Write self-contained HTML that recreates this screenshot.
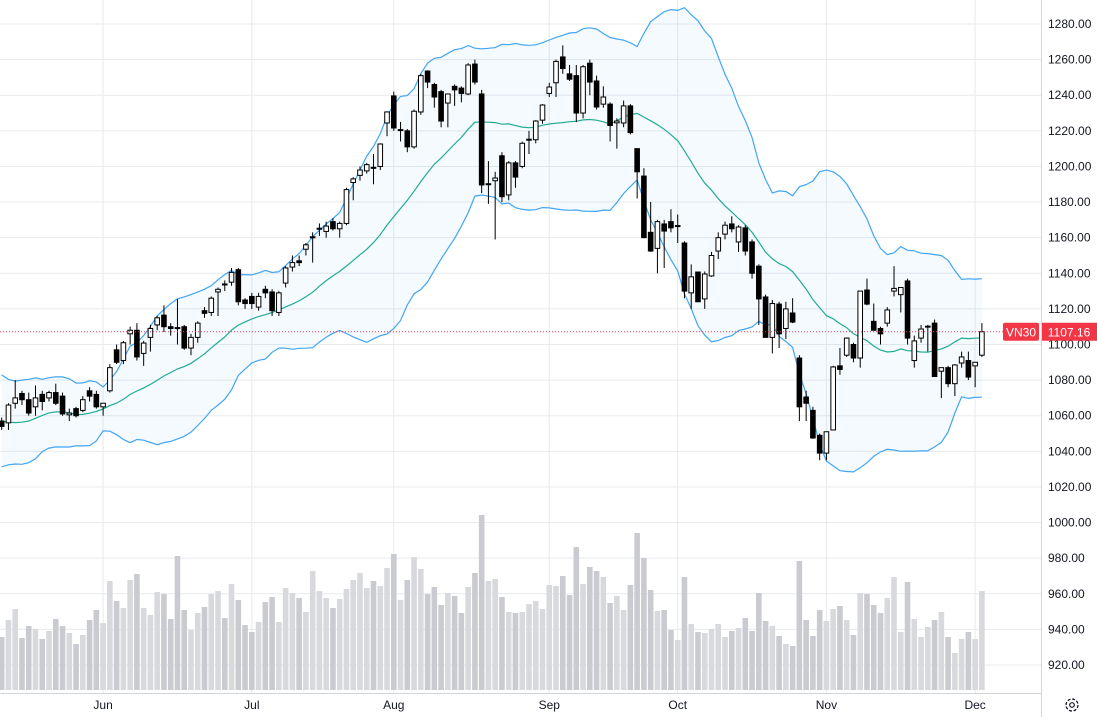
<!DOCTYPE html>
<html><head><meta charset="utf-8"><style>
html,body{margin:0;padding:0;background:#fff;width:1097px;height:717px;overflow:hidden;font-family:"Liberation Sans",sans-serif}
svg{display:block}
</style></head><body>
<svg id="chart" width="1097" height="717" xmlns="http://www.w3.org/2000/svg"></svg>
<script>
// ---- data ----
const opens=[1057,1056,1067,1072.5,1069,1065,1072,1070,1073,1071,1060.5,1064,1063,1074,1072,1065,1074,1097,1091,1106,1108,1095,1104,1111,1116.5,1110,1109.5,1110,1098,1104,1119,1118,1129.5,1134,1135,1142,1125,1127,1121,
1131,1129.5,1118,1134.5,1143.5,1147,1153.5,1160,1165,1163.5,1169,1165,1168,1191,1195,1197.5,1199.5,1200,1224.4,1239.6,1220.5,1220,1211,1230.6,1253.6,1246,1242,1235.6,1245,1244,1240.7,1257.5,1240.7,1190,1192,1206,
1184,1202,1200,1215,1215,1226,1241,1247,1261.5,1252,1251,1230,1258,1248,1235,1235,1224.5,1224.4,1234,1210,1194.6,1163,1154,1167.7,1169,1166.5,1157,1129,1140.7,1125.6,1138.5,1152.5,1162,1167.7,1157.6,1165.5,1157.6,1144,
1126.7,1104,1122.7,1109,1117.7,1092.4,1070.5,1063,1049,1039,1052,1088,1094,1100,1092.4,1130.6,1113,1109,1112,1130,1128,1135.7,1091,1103.6,1110,1112,1085,1087,1078,1089.6,1091,1088,1094];
const highs=[1059,1067,1080,1074,1073,1077,1074,1074,1078,1073,1064,1065,1071,1076,1074,1067,1089,1100,1102,1110,1112,1102,1111,1116,1122,1112,1125.6,1111,1106,1113,1121,1127,1132,1136,1143,1143,1126,1129,1129,
1133,1131,1130,1144,1150,1150,1157,1163,1168,1169,1171,1169,1188,1194,1200,1202,1207,1213,1231,1242,1225,1221,1232,1252,1254,1247,1243,1241,1246,1245,1258,1260,1243,1203,1197,1208,
1203,1203,1214,1220,1226,1235,1247,1260,1268,1257,1257,1257,1260,1251,1245,1236,1227,1237,1235,1210,1199,1180,1170,1170,1176,1173,1158,1145,1141,1141,1152,1163,1169,1172,1167,1167,1159,1145,
1128,1125,1124,1124,1126,1094,1074,1065,1050,1051,1088,1098,1104,1101,1130,1137,1123,1110,1121,1144,1132,1137,1105,1111,1111,1114,1087,1088,1089,1096,1096,1090,1112];
const lows=[1052,1052,1064,1066,1060,1060,1063,1068,1066,1060,1057,1059,1062,1068,1064,1060,1073,1089,1089,1100,1091,1088,1096,1108,1107,1105,1100,1097,1094,1101,1115,1116,1116,1130,1133,1122,1120,1120,1119,
1126,1116,1116,1132,1141,1144,1150,1146,1161,1160,1164,1160,1167,1181,1192,1196,1190,1198,1217,1220,1214,1208,1210,1229,1244,1233,1222,1222,1234,1236,1240,1246,1185,1179,1159,1180,
1181,1188,1199,1207,1213,1224,1239,1239,1252,1248,1225,1227,1240,1232,1233,1214,1210,1222,1218,1182,1160,1152,1140,1143,1163,1157,1126,1120,1124,1120,1138,1148,1159,1163,1152,1150,1137,1111,
1104,1095,1098,1103,1112,1057,1057,1047,1035,1035,1052,1083,1093,1090,1087,1122,1108,1100,1110,1127,1118,1100,1087,1101,1096,1082,1070,1076,1071,1087,1080,1076,1093];
const closes=[1054,1066,1070,1069,1061.5,1070,1068,1073,1067,1061,1061.5,1060,1069,1071,1065,1067,1087,1090,1101,1108,1093,1100.8,1109,1115,1110,1109,1109,1098,1104,1112,1117.5,1126,1131,1133.5,1140.5,1124,1123,1123,1127,
1129,1119,1129,1143,1146,1146,1156,1160.5,1165.3,1166.5,1165,1168,1187,1193,1198,1201,1199,1212.6,1230.6,1221.6,1220.7,1211,1231,1251,1247.4,1239,1225.5,1240.7,1243,1241,1257,1247.4,1189.6,1190.3,1193.5,1183,
1202,1194,1213,1215.3,1225.5,1234.5,1244.6,1259,1255,1249,1230,1256,1247.4,1233.4,1239,1223,1225.5,1234,1219,1197,1160,1152.5,1169,1163.7,1165.5,1166.8,1130,1138,1124,1139.6,1150,1160,1167,1165,1166,1152.5,1140,1125.6,
1104,1123,1106,1120,1112.6,1065,1067,1047.5,1039,1051,1087.4,1086,1103.6,1092.4,1130,1122.7,1108,1106,1119.4,1131.5,1132,1103.6,1102,1108.7,1110.3,1082,1087,1078,1088.5,1093,1081.7,1090,1107.16];
const volumes=[53,70,81,52,64,61,51,59,71,64,57,46,55,70,80,67,109,89,82,110,116,82,75,98,96,71,134,80,60,77,83,96,99,72,106,90,65,58,68,88,93,68,102,97,92,78,119,99,92,82,91,101,110,117,102,109,104,122,136,90,110,133,121,96,103,85,97,94,77,103,117,175,109,111,
93,78,77,78,86,89,81,105,104,114,95,143,106,123,119,113,87,94,80,105,157,132,100,79,80,60,50,113,66,58,57,61,66,53,59,62,72,59,97,69,64,54,46,44,129,70,54,80,69,81,84,70,55,97,96,85,77,92,113,58,108,71,53,63,70,78,53,37,51,58,51,99];
const priorCloses=[1080,1075,1065,1048,1040,1035,1045,1055,1062,1072,1078,1068,1058,1045,1038,1050,1062,1058,1054];
const priceTicks=[1280,1260,1240,1220,1200,1180,1160,1140,1120,1100,1080,1060,1040,1020,1000,980,960,940,920];
const monthLabels=['Jun','Jul','Aug','Sep','Oct','Nov','Dec'];
const monthIdx=[15,37,58,81,100,122,144];
const lastPrice=1107.16;

// ---- axes ----
const PLOT_R=1041;
const yP=p=>24+(1280-p)*(641/360);
const xI=i=>1.7+i*6.76;
const yV=v=>690-v;

const NS='http://www.w3.org/2000/svg';
const svg=document.getElementById('chart');
function mk(tag,attrs,parent){const e=document.createElementNS(NS,tag);for(const k in attrs)e.setAttribute(k,attrs[k]);(parent||svg).appendChild(e);return e;}

// grid
const grid=mk('g',{});


priceTicks.forEach(p=>{const l=mk('line',{x1:0,x2:PLOT_R,y1:yP(p),y2:yP(p),stroke:'#e8eaee','stroke-width':1},grid);

});
monthIdx.forEach(i=>{const l=mk('line',{x1:xI(i),x2:xI(i),y1:0,y2:693,stroke:'#e8eaee','stroke-width':1},grid);

});

// volume
const vg=mk('g',{});


volumes.forEach((v,i)=>{const up=closes[i]>=opens[i];
const r=mk('rect',{x:xI(i)-2.8,y:yV(v),width:5.6,height:v,fill:up?'#d8d9dd':'#cacbd0'},vg);

});

// bollinger
const all=priorCloses.concat(closes);const P=priorCloses.length;
const up=[],mid=[],lo=[];
for(let i=0;i<closes.length;i++){const w=all.slice(P+i-19,P+i+1);const m=w.reduce((a,b)=>a+b,0)/w.length;
const sd=Math.sqrt(w.reduce((a,b)=>a+(b-m)*(b-m),0)/w.length);mid.push(m);up.push(m+2*sd);lo.push(m-2*sd);}
const pts=a=>a.map((v,i)=>xI(i).toFixed(1)+','+yP(v).toFixed(1));
const bb=mk('g',{});


const fill=mk('polygon',{points:pts(up).concat(pts(lo).reverse()).join(' '),fill:'rgba(33,150,243,0.05)'},bb);


const ul=mk('polyline',{points:pts(up).join(' '),fill:'none',stroke:'#42a5f5','stroke-width':1.2},bb);


const ml=mk('polyline',{points:pts(mid).join(' '),fill:'none',stroke:'#22ab94','stroke-width':1.2},bb);


const ll=mk('polyline',{points:pts(lo).join(' '),fill:'none',stroke:'#42a5f5','stroke-width':1.2},bb);



// candles
const cg=mk('g',{});


closes.forEach((c,i)=>{const o=opens[i];const x=xI(i);const upC=c>=o;
const w=mk('line',{x1:x,x2:x,y1:yP(highs[i]),y2:yP(lows[i]),stroke:'#000','stroke-width':1},cg);


const t=yP(Math.max(o,c)),b=yP(Math.min(o,c));
const r=mk('rect',{x:x-2.3,y:t,width:4.6,height:Math.max(b-t,1),fill:upC?'#fff':'#000',stroke:'#000','stroke-width':1},cg);

});

// last price line
const lp=mk('line',{x1:0,x2:PLOT_R,y1:yP(lastPrice),y2:yP(lastPrice),stroke:'#f23645','stroke-width':1,'stroke-dasharray':'1,2'});



// axes
const ax=mk('line',{x1:PLOT_R+0.5,x2:PLOT_R+0.5,y1:0,y2:717,stroke:'#d1d4dc','stroke-width':1});


const bx=mk('line',{x1:0,x2:PLOT_R,y1:693.5,y2:693.5,stroke:'#d1d4dc','stroke-width':1});


priceTicks.forEach(p=>{const t=mk('text',{x:1048,y:yP(p)+4,'font-size':12,fill:'#131722','font-family':'Liberation Sans, sans-serif'});
t.textContent=p.toFixed(2);

});
monthLabels.forEach((m,k)=>{const t=mk('text',{x:xI(monthIdx[k]),y:709,'font-size':12,fill:'#131722','text-anchor':'middle','font-family':'Liberation Sans, sans-serif'});
t.textContent=m;

});

// price badges
const yl=yP(lastPrice);
const sb=mk('g',{});


mk('rect',{x:1003,y:yl-9,width:36,height:18,rx:2,fill:'#f23645'},sb);
const st=mk('text',{x:1021,y:yl+4.5,'font-size':12,fill:'#fff','text-anchor':'middle','font-family':'Liberation Sans, sans-serif'},sb);st.textContent='VN30';
const pb=mk('g',{});


mk('rect',{x:1042,y:yl-9,width:55,height:18,fill:'#f23645'},pb);
const pt=mk('text',{x:1069,y:yl+4.5,'font-size':12,fill:'#fff','text-anchor':'middle','font-family':'Liberation Sans, sans-serif'},pb);pt.textContent=lastPrice.toFixed(2);

// settings gear
const gear=mk('g',{});


mk('circle',{cx:1072,cy:705,r:6,fill:'none',stroke:'#131722','stroke-width':1.3,'stroke-dasharray':'3,1.7'},gear);
mk('circle',{cx:1072,cy:705,r:2.3,fill:'none',stroke:'#131722','stroke-width':1.2},gear);
</script>
</body></html>
